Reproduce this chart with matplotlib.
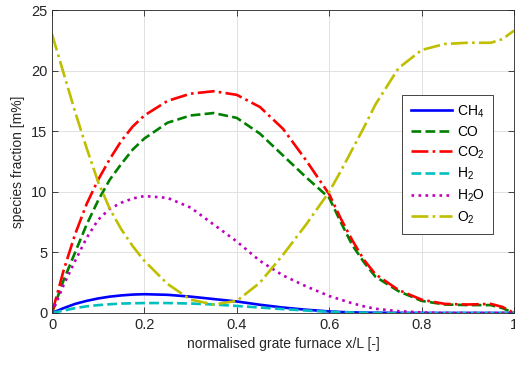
import matplotlib.pyplot as plt
import numpy as np

plt.rcParams['font.family'] = ['Liberation Sans', 'DejaVu Sans']
plt.rcParams['mathtext.default'] = 'regular'

# species profiles along the grate
x = [0, 0.025, 0.05, 0.075, 0.1, 0.125, 0.15, 0.175, 0.2, 0.25, 0.3, 0.35, 0.4,
     0.45, 0.5, 0.55, 0.6, 0.625, 0.65, 0.675, 0.7, 0.75, 0.8, 0.85, 0.9,
     0.95, 0.975, 1.0]
ch4 = [0, 0.4, 0.75, 1.0, 1.2, 1.35, 1.45, 1.52, 1.55, 1.5, 1.35, 1.15, 0.95,
       0.68, 0.45, 0.27, 0.13, 0.08, 0.05, 0.03, 0.02, 0.01, 0, 0, 0, 0, 0, 0]
co = [0, 2.7, 5.0, 7.3, 9.3, 11.0, 12.3, 13.5, 14.4, 15.7, 16.3, 16.5, 16.1,
      14.8, 13.0, 11.2, 9.5, 7.5, 5.6, 4.2, 3.0, 1.8, 1.0, 0.7, 0.65, 0.65,
      0.4, 0]
co2 = [0, 3.5, 6.5, 9.0, 11.0, 12.7, 14.2, 15.4, 16.3, 17.5, 18.1, 18.3, 18.0,
       17.0, 15.2, 12.6, 9.8, 7.8, 6.0, 4.4, 3.2, 1.9, 1.1, 0.75, 0.7, 0.75,
       0.5, 0]
h2 = [0, 0.2, 0.4, 0.55, 0.65, 0.72, 0.78, 0.8, 0.82, 0.82, 0.78, 0.7, 0.58,
      0.45, 0.32, 0.2, 0.1, 0.07, 0.04, 0.02, 0.01, 0, 0, 0, 0, 0, 0, 0]
h2o = [0, 2.3, 4.3, 6.2, 7.7, 8.6, 9.1, 9.45, 9.65, 9.5, 8.7, 7.3, 5.9,
       4.3, 3.1, 2.2, 1.4, 1.1, 0.8, 0.55, 0.35, 0.15, 0.05, 0, 0, 0, 0, 0]
o2 = [23.0, 19.8, 16.6, 13.6, 10.8, 8.6, 6.9, 5.5, 4.3, 2.4, 1.1, 0.7, 1.0,
      2.5, 4.8, 7.3, 10.0, 11.7, 13.5, 15.3, 17.2, 20.2, 21.7, 22.2, 22.3,
      22.3, 22.6, 23.3]

labels = ['CH$_4$', 'CO', 'CO$_2$', 'H$_2$', 'H$_2$O', 'O$_2$']
series = [ch4, co, co2, h2, h2o, o2]
colors = ['#0000ff', '#008000', '#ff0000', '#00bfbf', '#bf00bf', '#bfbf00']
styles = ['-', '--', '-.', '--', ':', '-.']

fig = plt.figure(figsize=(5.15, 3.65), dpi=100)
ax = fig.add_axes([0.101, 0.1425, 0.897, 0.83])

for y, lab, c, ls in zip(series, labels, colors, styles):
    ax.plot(x, y, ls, color=c, lw=1.9, label=lab)

ax.set_xlim(0, 1)
ax.set_ylim(0, 25)
ax.set_xticks([0, 0.2, 0.4, 0.6, 0.8, 1])
ax.set_xticklabels(['0', '0.2', '0.4', '0.6', '0.8', '1'])
ax.set_yticks([0, 5, 10, 15, 20, 25])
ax.grid(True, color='#dcdcdc', lw=0.6)
ax.tick_params(direction='in', top=True, right=True, labelsize=10.5,
               colors='#262626', length=4, width=0.6)
for s in ax.spines.values():
    s.set_color('#262626')
    s.set_linewidth(0.6)

ax.set_xlabel('normalised grate furnace x/L [-]', fontsize=10, color='#262626')
ax.set_ylabel('species fraction [m%]', fontsize=10, color='#262626')

leg = ax.legend(loc='upper left', bbox_to_anchor=(0.758, 0.72), fontsize=10,
                fancybox=False, edgecolor='#262626', framealpha=1,
                handlelength=3.0, handletextpad=0.35, labelspacing=0.38,
                borderpad=0.6, borderaxespad=0)
leg.get_frame().set_linewidth(0.6)

fig.savefig('out.png', dpi=100)
